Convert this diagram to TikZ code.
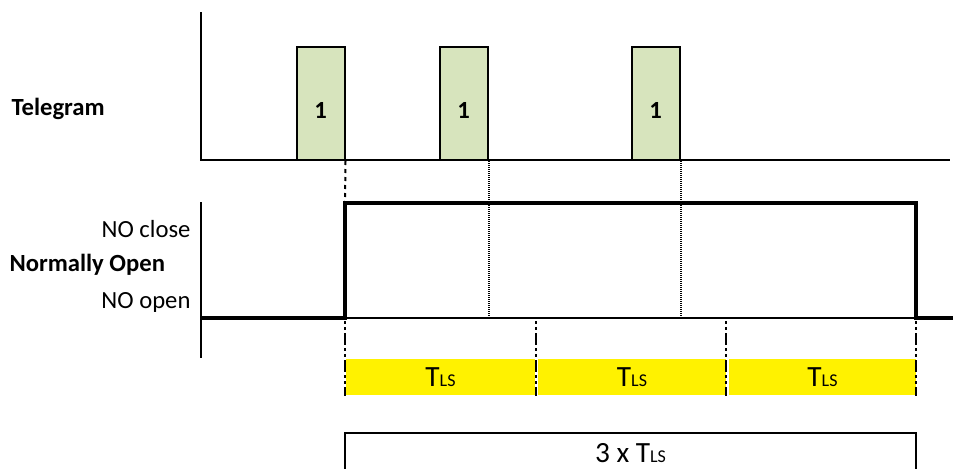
\documentclass[tikz,border=0pt]{standalone}
\usepackage{fontspec}
\setmainfont{Carlito}
\usetikzlibrary{positioning}
\definecolor{pulsegreen}{RGB}{215,228,189}
\newcommand{\tls}{T{\fontsize{13.5}{15}\selectfont LS}}

\begin{document}
\begin{tikzpicture}[x=0.75pt, y=-0.75pt, thick]

		\tikzstyle{axis}=[line width=1.5pt, black]
		\tikzstyle{signal}=[line width=3pt, black, line join=miter]
		\tikzstyle{pulse}=[rectangle, line width=1.5pt, draw, fill=pulsegreen, minimum width=36pt, minimum height=84.75pt, inner sep=0pt]
		\tikzstyle{one}=[font=\fontsize{18.5}{22}\selectfont\bfseries, inner sep=0pt]
		\tikzstyle{lbl}=[font=\fontsize{18.5}{22}\selectfont, inner sep=0pt]
		\tikzstyle{big}=[font=\fontsize{22}{26}\selectfont, inner sep=0pt]
		\tikzstyle{tbar}=[rectangle, fill=yellow, minimum height=27pt, inner sep=0pt, font=\fontsize{22}{26}\selectfont]
		\tikzstyle{slotmark}=[line width=1.5pt, dash pattern=on 2.25pt off 2.25pt on 2.25pt off 2.25pt on 9pt off 2.25pt]
		\tikzstyle{link}=[line width=1.5pt, dash pattern=on 0.75pt off 0.75pt]

		\useasboundingbox (0,0) rectangle (953,468);

		% Telegram axis
		\coordinate (t0) at (201,12);
		\coordinate (t1) at (201,160);
		\coordinate (t2) at (950,160);
		\draw[axis] (t0) -- (t1) -- (t2);
		\node[lbl, font=\fontsize{18.5}{22}\selectfont\bfseries, anchor=west] (tele) at (11,109) {Telegram};

		\node[pulse] (p1) at (320.5,103.5) {};
		\node[pulse] (p2) at (463.5,103.5) {};
		\node[pulse] (p3) at (655.5,103.5) {};
		\node[one] (n1) at (320.5,110) {1};
		\node[one] (n2) at (463.5,110) {1};
		\node[one] (n3) at (655.5,110) {1};

		% Normally open axis
		\coordinate (a0) at (201,202);
		\coordinate (a1) at (201,358);
		\draw[axis] (a0) -- (a1);
		\node[lbl, anchor=east] (noc) at (191,229) {NO close};
		\node[lbl, font=\fontsize{18.5}{22}\selectfont\bfseries, anchor=west] (nol) at (9,265) {Normally Open};
		\node[lbl, anchor=east] (noo) at (191,302) {NO open};

		\coordinate (s0) at (201,318);
		\coordinate (s1) at (345,318);
		\coordinate (s2) at (345,203);
		\coordinate (s3) at (916,203);
		\coordinate (s4) at (916,318);
		\coordinate (s5) at (953,318);
		\draw[axis, line width=1.2pt] (s1) -- (s4);
		\draw[signal] (s0) -- (s1) -- (s2) -- (s3) -- (s4) -- (s5);

		% Links telegram -> signal
		\draw[line width=1.5pt, dash pattern=on 3pt off 3pt] (p1.south east) -- (s2);
		\draw[link] (p2.south east) -- (p2.south east |- s1);
		\draw[link] (p3.south east) -- (p3.south east |- s1);

		% Time slots
		\node[tbar] (b1) at (440.5,377) [minimum width=141.75pt] {\tls};
		\node[tbar] (b2) at (632,377) [minimum width=141pt] {\tls};
		\node[tbar] (b3) at (822.5,377) [minimum width=140.25pt] {\tls};

		\coordinate (m1) at (345,321);
		\coordinate (m2) at (536,321);
		\coordinate (m3) at (726,321);
		\coordinate (m4) at (916,321);
		\draw[slotmark] (m1) -- (m1 |- b1.south);
		\draw[slotmark] (m2) -- (m2 |- b1.south);
		\draw[slotmark] (m3) -- (m3 |- b1.south);
		\draw[slotmark] (m4) -- (m4 |- b1.south);

		% Total time
		\coordinate (c0) at (345,470);
		\coordinate (c1) at (345,433);
		\coordinate (c2) at (916,433);
		\coordinate (c3) at (916,470);
		\draw[axis] (c0) -- (c1) -- (c2) -- (c3);
		\node[big] (tot) at (630.5,453) {3 x \tls};

\end{tikzpicture}
\end{document}
